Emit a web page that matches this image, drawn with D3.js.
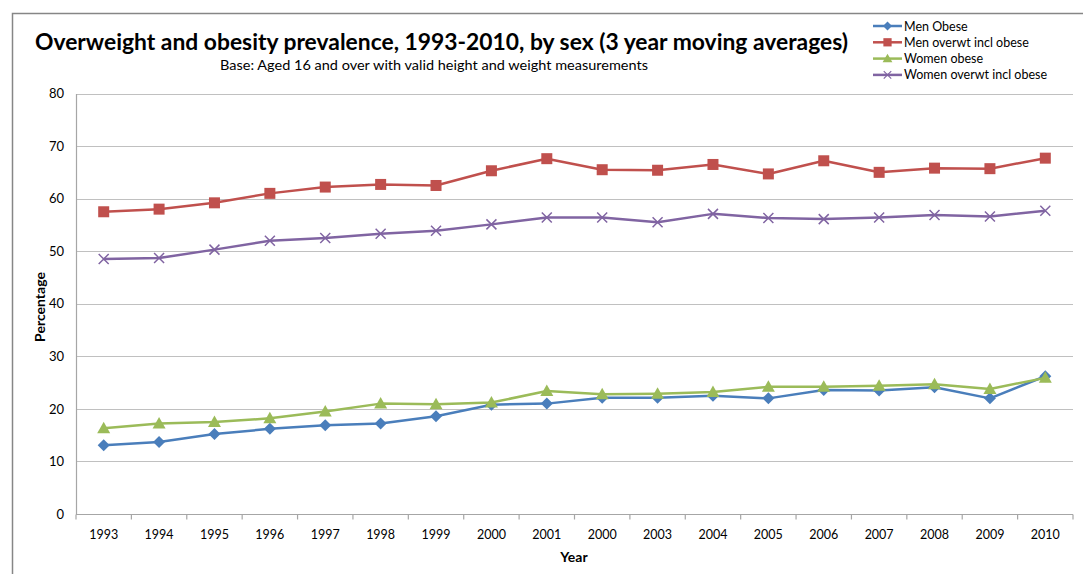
<!DOCTYPE html>
<html>
  <head>
    <title>Overweight and obesity prevalence</title>
    <script src="https://d3js.org/d3.v7.min.js"></script>
    <style>
      body { margin: 0; background: #fff; }
      text { font-family: Lato, "Open Sans", sans-serif; fill: #000; }
    </style>
  </head>
  <body>
    <div id="chart"></div>
    <script>
      // category labels as printed on the chart (including the "2000" repeat)
      var years = ['1993','1994','1995','1996','1997','1998','1999','2000','2001',
                   '2000','2003','2004','2005','2006','2007','2008','2009','2010'];
      var menObese = [13.1,13.7,15.2,16.2,16.9,17.2,18.6,20.8,21.0,22.1,22.1,22.5,22.0,23.6,23.5,24.1,22.0,26.2];
      var menOverwt = [57.5,58.0,59.2,61.0,62.2,62.7,62.5,65.3,67.6,65.5,65.4,66.5,64.7,67.2,65.0,65.8,65.7,67.7];
      var womenObese = [16.3,17.2,17.5,18.2,19.5,21.0,20.9,21.2,23.4,22.8,22.9,23.2,24.2,24.2,24.4,24.7,23.8,25.9];
      var womenOverwt = [48.5,48.7,50.3,52.0,52.5,53.3,53.9,55.1,56.4,56.4,55.5,57.1,56.3,56.1,56.4,56.9,56.6,57.7];
      var yTicks = [0,10,20,30,40,50,60,70,80];

      var series = [
        {name: 'Men Obese', values: menObese, color: '#4a7ebb', marker: 'diamond'},
        {name: 'Men overwt incl obese', values: menOverwt, color: '#c0504d', marker: 'square'},
        {name: 'Women obese', values: womenObese, color: '#9bbb59', marker: 'triangle'},
        {name: 'Women overwt incl obese', values: womenOverwt, color: '#8064a2', marker: 'cross'}
      ];

      var width = 1083, height = 574;
      var plotLeft = 76, plotRight = 1073, plotTop = 93.5, plotBottom = 514;

      var svg = d3.select('#chart').append('svg')
        .attr('width', width).attr('height', height);

      // outer chart frame
      svg.append('rect')
        .attr('x', 12.5).attr('y', 13.5)
        .attr('width', 1200).attr('height', 700)
        .attr('fill', 'none').attr('stroke', '#868686').attr('stroke-width', 1.5);

      var x = d3.scaleBand().domain(d3.range(years.length)).range([plotLeft, plotRight]);
      var y = d3.scaleLinear().domain([0, 80]).range([plotBottom, plotTop]);

      // gridlines
      svg.append('g').selectAll('line')
        .data(yTicks.filter(function (d) { return d > 0; }))
        .enter().append('line')
        .attr('x1', plotLeft).attr('x2', plotRight)
        .attr('y1', function (d) { return Math.round(y(d)) + 0.5; })
        .attr('y2', function (d) { return Math.round(y(d)) + 0.5; })
        .attr('stroke', '#c0c0c0').attr('stroke-width', 1.2);

      // y axis
      var yAxis = svg.append('g')
        .attr('transform', 'translate(' + plotLeft + ',0)')
        .call(d3.axisLeft(y).tickValues(yTicks).tickSize(0).tickPadding(12));
      yAxis.select('.domain').attr('stroke', '#a6a6a6').attr('stroke-width', 1.2);
      yAxis.selectAll('text').style('font-size', '13px').attr('fill', '#262626')
        .style('font-family', 'Lato, sans-serif');

      // x axis: ticks sit on category boundaries
      var xAxis = svg.append('g')
        .attr('transform', 'translate(0,' + (Math.round(plotBottom) + 0.5) + ')');
      xAxis.append('line')
        .attr('x1', plotLeft).attr('x2', plotRight)
        .attr('stroke', '#a6a6a6').attr('stroke-width', 1.2);
      xAxis.selectAll('line.tick')
        .data(d3.range(years.length + 1))
        .enter().append('line')
        .attr('class', 'tick')
        .attr('x1', function (i) { return plotLeft + i * x.step(); })
        .attr('x2', function (i) { return plotLeft + i * x.step(); })
        .attr('y1', 0).attr('y2', 5)
        .attr('stroke', '#a6a6a6').attr('stroke-width', 1.2);
      xAxis.selectAll('text')
        .data(years)
        .enter().append('text')
        .attr('x', function (d, i) { return x(i) + x.bandwidth() / 2; })
        .attr('y', 24)
        .attr('text-anchor', 'middle')
        .style('font-size', '12.5px')
        .attr('fill', '#262626')
        .text(function (d) { return d; });

      // axis titles
      svg.append('text')
        .attr('transform', 'translate(45,307) rotate(-90)')
        .attr('text-anchor', 'middle')
        .style('font-size', '14px').style('font-weight', 'bold')
        .text('Percentage');
      svg.append('text')
        .attr('x', 574).attr('y', 562)
        .attr('text-anchor', 'middle')
        .style('font-size', '14px').style('font-weight', 'bold')
        .text('Year');

      // titles
      svg.append('text')
        .attr('x', 35).attr('y', 50)
        .attr('textLength', 813).attr('lengthAdjust', 'spacingAndGlyphs')
        .style('font-size', '22px').style('font-weight', 'bold')
        .text('Overweight and obesity prevalence, 1993-2010, by sex (3 year moving averages)');
      svg.append('text')
        .attr('x', 220).attr('y', 70)
        .attr('textLength', 428).attr('lengthAdjust', 'spacingAndGlyphs')
        .style('font-size', '13px')
        .text('Base: Aged 16 and over with valid height and weight measurements');

      var line = d3.line()
        .x(function (d, i) { return x(i) + x.bandwidth() / 2; })
        .y(function (d) { return y(d); });

      function drawMarker(g, type, color) {
        if (type === 'diamond') {
          g.append('path').attr('d', 'M0,-6L6,0L0,6L-6,0Z').attr('fill', color);
        } else if (type === 'square') {
          g.append('rect').attr('x', -5.5).attr('y', -5.5).attr('width', 11).attr('height', 11).attr('fill', color);
        } else if (type === 'triangle') {
          g.append('path').attr('d', 'M0,-6.5L6.5,5L-6.5,5Z').attr('fill', color);
        } else {
          g.append('path').attr('d', 'M-5,-5L5,5M-5,5L5,-5')
            .attr('stroke', color).attr('stroke-width', 1.5).attr('fill', 'none');
        }
      }

      series.forEach(function (s) {
        var g = svg.append('g');
        g.append('path')
          .datum(s.values)
          .attr('d', line)
          .attr('fill', 'none')
          .attr('stroke', s.color)
          .attr('stroke-width', 2.5)
          .attr('stroke-linejoin', 'round');
        g.selectAll('g.pt')
          .data(s.values)
          .enter().append('g')
          .attr('class', 'pt')
          .attr('transform', function (d, i) {
            return 'translate(' + (x(i) + x.bandwidth() / 2) + ',' + y(d) + ')';
          })
          .each(function () { drawMarker(d3.select(this), s.marker, s.color); });
      });

      // legend
      var legend = svg.append('g');
      series.forEach(function (s, i) {
        var ly = 26 + i * 16.3;
        var row = legend.append('g');
        row.append('line')
          .attr('x1', 873).attr('x2', 902)
          .attr('y1', ly).attr('y2', ly)
          .attr('stroke', s.color).attr('stroke-width', 2.5);
        var m = row.append('g').attr('transform', 'translate(887.5,' + ly + ') scale(0.75)');
        drawMarker(m, s.marker, s.color);
        row.append('text')
          .attr('x', 904).attr('y', ly + 4.5)
          .style('font-size', '12.5px')
          .text(s.name);
      });
    </script>
  </body>
</html>
